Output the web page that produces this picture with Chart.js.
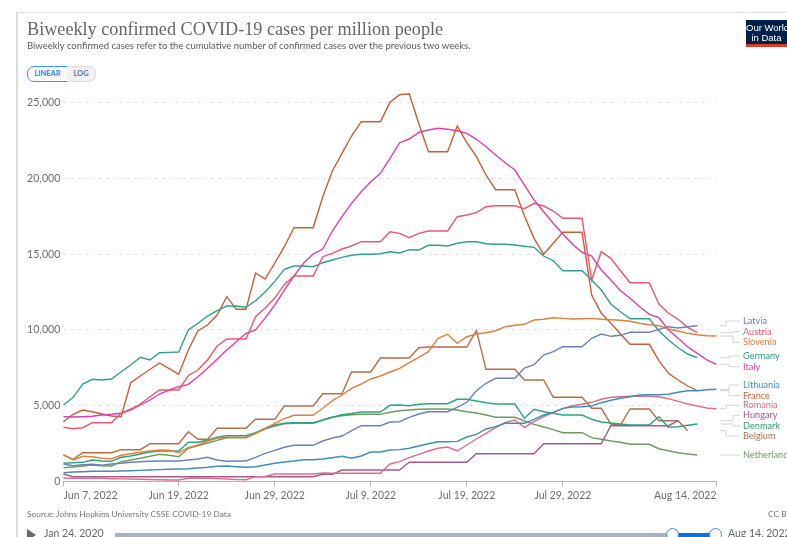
<!DOCTYPE html>
<html>
<head>
<meta charset="utf-8">
<title>Biweekly confirmed COVID-19 cases per million people</title>
<script src="https://cdn.jsdelivr.net/npm/chart.js@4/dist/chart.umd.js"></script>
<style>
  html, body { margin: 0; padding: 0; background: #fff; overflow: hidden; }
  #page { position: relative; width: 787px; height: 537px; overflow: hidden; font-family: Lato, sans-serif; color: #5b5b5b; }
  #page div, #page span { position: absolute; white-space: nowrap; }
  canvas { position: absolute; left: 0; top: 0; }
  #frameTop { left: 16px; top: 12px; width: 771px; height: 1px; background: #ddd; }
  #frameLeft { left: 16px; top: 12px; width: 2px; height: 525px; background: #ddd; }
  #title { left: 27px; top: 19px; font: 18.2px "Liberation Serif", serif; color: #666; }
  #subtitle { left: 27px; top: 40px; font-size: 9.5px; color: #5b5b5b; }
  #linearBtn { left: 27px; top: 66px; width: 39px; height: 14px; border: 1px solid #3d94f6; border-radius: 7px 0 0 7px; color: #1f7fe0; font: bold 7.5px/14px Lato; text-align: center; background: #fff; }
  #logBtn { left: 67px; top: 66px; width: 28px; height: 14px; border: 1px solid #ddd; border-left: 0; border-radius: 0 7px 7px 0; color: #5e7595; font: bold 7.5px/14px Lato; text-align: center; background: #f1f2f4; }
  #logo { left: 746px; top: 20px; width: 41px; height: 27px; background: #002147; border-bottom: 3px solid #dc3e2e; box-sizing: border-box; color: #fff; font: 9.5px/10px "Liberation Sans", sans-serif; text-align: center; padding-top: 3px; overflow: hidden; }
  #source { left: 27px; top: 509px; font-size: 8.35px; color: #777; }
  #license { left: 768px; top: 509px; font-size: 8.35px; color: #777; }
  #play { left: 27px; top: 529px; width: 0; height: 0; border-left: 9px solid #666; border-top: 6px solid transparent; border-bottom: 6px solid transparent; }
  #startDate { left: 44px; top: 527px; font-size: 10.5px; color: #666; }
  #endDate { left: 728px; top: 527px; font-size: 10.5px; color: #666; }
  #track { left: 115px; top: 533px; width: 600px; height: 4px; background: #a9b3bf; }
  #range { left: 673px; top: 533px; width: 42px; height: 4px; background: #0073e6; }
  .handle { top: 528px; width: 11px; height: 11px; border: 1px solid #3d94f6; border-radius: 50%; background: #fff; }
</style>
</head>
<body>
<div id="page">
  <canvas id="chart" width="787" height="537"></canvas>
  <div id="frameTop"></div>
  <div id="frameLeft"></div>
  <div id="title">Biweekly confirmed COVID-19 cases per million people</div>
  <div id="subtitle">Biweekly confirmed cases refer to the cumulative number of confirmed cases over the previous two weeks.</div>
  <div id="linearBtn">LINEAR</div>
  <div id="logBtn">LOG</div>
  <div id="logo">Our World<br>in Data</div>
  <div id="source">Source: Johns Hopkins University CSSE COVID-19 Data</div>
  <div id="license">CC BY</div>
  <div id="play"></div>
  <div id="startDate">Jan 24, 2020</div>
  <div id="track"></div>
  <div id="range"></div>
  <div class="handle" style="left:666px"></div>
  <div class="handle" style="left:709px"></div>
  <div id="endDate">Aug 14, 2022</div>
</div>
<script>
const tickLabels = ["Jun 7, 2022", "Jun 19, 2022", "Jun 29, 2022", "Jul 9, 2022", "Jul 19, 2022", "Jul 29, 2022", "Aug 14, 2022"];

// one value per day from Jun 7; a series simply stops when its last report is older
const france = [3944,4433,4716,4604,4452,4320,4274,6517,6960,7390,7816,7447,7071,8674,9947,10323,10982,12190,11358,11358,13753,13357,14412,15487,16741,16741,16741,18785,20481,21648,22789,23732,23732,23732,25012,25513,25580,23613,21750,21750,21750,23448,22347,21424,20217,19247,19247,19247,17512,16041,14986,15712,16437,16437,16437,12302,11094,10435,9729,9050,9050,9050,7968,7137,6695,6299,5989];
const austria = [3575,3483,3549,3878,3878,3878,4498,4782,5112,5593,6035,6035,6035,6979,7354,8014,8938,9400,9400,9400,10870,11445,12100,13000,13555,13555,13555,14828,15052,15336,15534,15817,15817,15817,16477,16371,16081,16371,16523,16523,16523,17466,17578,17730,18126,18192,18192,18192,17994,18350,18172,17842,17361,17361,17361,13291,15158,14722,13904,13113,13113,13113,11708,11094,10699,10171,9815];
const slovenia = [1748,1418,1662,1636,1530,1504,1728,1834,1926,2012,2078,2058,1900,2229,2408,2671,2849,2915,2915,2915,3179,3509,3839,4142,4366,4366,4366,4828,5330,5706,6147,6431,6761,6959,7222,7466,7836,8192,8562,9446,9710,9116,9551,9729,9815,9947,10211,10303,10369,10652,10699,10804,10760,10719,10740,10760,10699,10670,10633,10567,10435,10342,10277,10059,9927,9775,9683,9617,9597];
const germany = [5046,5554,6431,6741,6695,6761,7242,7684,8192,8014,8496,8520,8542,9993,10435,10916,11266,11576,11576,11490,11926,12500,13200,13997,14214,14214,14168,14432,14610,14788,14920,14986,14986,15026,15158,15072,15290,15270,15580,15580,15534,15712,15817,15817,15685,15646,15646,15600,15514,15448,14874,14564,13904,13904,13904,13291,12631,11708,11200,10738,10738,10738,9947,9333,8825,8410,8166];
const italy = [4274,4250,4274,4300,4386,4432,4498,4716,5046,5376,5771,6035,6253,6411,6913,7466,8060,8674,9221,9775,9993,10780,11640,12630,13555,14392,15006,15336,16523,17466,18350,19116,19775,20329,21318,22347,22591,23033,23185,23297,23231,23139,22967,22572,22083,21536,21028,20546,19557,18568,17796,17031,16325,15646,15118,14874,13951,13291,12585,12084,11530,11029,10804,9993,9446,8891,8456,8014,7731];
const latvia = [1154,1042,1108,1135,1069,1154,1200,1266,1306,1332,1352,1352,1352,1418,1484,1596,1418,1332,1352,1352,1596,1860,2058,2256,2388,2388,2388,2671,2869,3001,3351,3681,3681,3681,3925,3944,4235,4452,4604,4604,4604,4894,5224,5989,6477,6807,6807,6807,7486,7704,8344,8562,8891,8891,8891,9446,9729,9577,9643,9841,9841,9841,10039,10211,10125,10211,10277];
const lithuania = [580,627,646,673,673,673,693,712,732,759,785,805,825,844,890,937,1003,1022,976,937,976,1088,1200,1286,1352,1438,1438,1484,1570,1662,1530,1682,1946,1946,2078,2100,2190,2342,2493,2625,2625,2650,2935,3113,3463,3615,3839,3839,3839,4103,4386,4564,4828,4914,4934,4980,5198,5356,5488,5594,5706,5726,5726,5752,5884,5989,5989,6055,6081];
const romania = [211,211,211,211,211,185,170,160,145,130,115,99,99,211,231,210,190,165,130,119,317,330,495,495,495,495,495,561,541,541,541,541,541,541,1154,1306,1570,1794,2012,2190,2276,2012,2408,2803,3179,3549,3905,4057,3575,3944,4274,4538,4802,5000,5092,5224,5422,5554,5594,5620,5640,5620,5594,5462,5290,5112,4980,4848,4802];
const hungary = [495,317,317,317,317,317,317,317,317,317,317,317,317,317,317,317,317,317,317,317,317,317,317,317,317,317,317,475,475,759,759,759,759,759,759,759,1266,1266,1266,1266,1266,1266,1266,1834,1834,1834,1834,1834,1834,1834,2493,2493,2493,2493,2493,2493,2493,3681,3681,3681,3681,3681,3681,3681,4010];
const denmark = [1200,1240,1266,1418,1352,1332,1596,1682,1814,1946,2012,2012,2012,2586,2586,2737,2915,3021,3021,3021,3219,3509,3727,3839,3878,3878,3878,4057,4235,4406,4485,4584,4584,4584,5026,5046,5000,5092,5132,5132,5132,5422,5422,5310,5198,5112,5112,5112,4169,4762,4604,4498,4386,4386,4386,4103,3925,3859,3793,3727,3727,3727,4274,3575,3615,3707,3793];
const belgium = [1748,1464,1900,1900,1900,1900,2098,2098,2098,2493,2493,2493,2493,3285,2783,2783,3509,3509,3509,3509,4103,4103,4103,4980,4980,4980,4980,5791,5791,5791,7222,7222,7222,8146,8146,8146,8146,8825,8872,8872,8872,8872,8872,9947,7400,7400,7400,7400,6695,6695,6695,5554,5554,5554,5554,4828,4828,3793,3727,4782,4782,4782,4010,4010,4010,3351];
const netherlands = [910,956,1022,1088,1042,1022,1306,1418,1530,1662,1794,1728,1636,2190,2361,2539,2717,2889,2889,2889,3179,3463,3661,3812,3839,3839,3839,4057,4235,4340,4406,4432,4432,4432,4564,4670,4716,4762,4782,4782,4782,4716,4604,4518,4386,4235,4235,4235,3990,3773,3595,3417,3219,3219,3219,2889,2783,2671,2586,2454,2454,2454,2163,2032,1900,1814,1748];

const dayCount = 69;
const dateLabels = [];
for (let i = 0; i < dayCount; i++) {
  const date = new Date(2022, 5, 7 + i);
  dateLabels.push(date.toLocaleDateString("en-US", { month: "short", day: "numeric", year: "numeric" }));
}

const seriesList = [
  { label: "Latvia", data: latvia, color: "#6a82b8", labelY: 321, elbowX: 726 },
  { label: "Austria", data: austria, color: "#e9586f", labelY: 331.7, elbowX: 733 },
  { label: "Slovenia", data: slovenia, color: "#e07f3f", labelY: 342.3, elbowX: 733 },
  { label: "Germany", data: germany, color: "#2f9e94", labelY: 356, elbowX: 729 },
  { label: "Italy", data: italy, color: "#df3fa8", labelY: 366.7, elbowX: 729 },
  { label: "Lithuania", data: lithuania, color: "#3f8fb5", labelY: 385, elbowX: 729 },
  { label: "France", data: france, color: "#c45f38", labelY: 395.7, elbowX: 729 },
  { label: "Romania", data: romania, color: "#dc6d8e", labelY: 405.3, elbowX: 726 },
  { label: "Hungary", data: hungary, color: "#a35b8e", labelY: 415.3, elbowX: 733 },
  { label: "Denmark", data: denmark, color: "#2fa37d", labelY: 426, elbowX: 733 },
  { label: "Belgium", data: belgium, color: "#b56e4a", labelY: 436, elbowX: 726 },
  { label: "Netherlands", data: netherlands, color: "#6f9c5e", labelY: 455, elbowX: 729 },
];

// the end-of-line labels with their little elbow connectors
const lineLabelsPlugin = {
  id: "lineLabels",
  afterDraw(chart) {
    const { ctx } = chart;
    const y = chart.scales.y;
    ctx.save();
    ctx.font = "9.2px Lato";
    ctx.textBaseline = "middle";
    seriesList.forEach((series) => {
      const startY = y.getPixelForValue(series.data[series.data.length - 1]);
      ctx.strokeStyle = "#d4d4d4";
      ctx.lineWidth = 1;
      ctx.beginPath();
      ctx.moveTo(720, startY);
      ctx.lineTo(series.elbowX, startY);
      ctx.lineTo(series.elbowX, series.labelY);
      ctx.lineTo(740, series.labelY);
      ctx.stroke();
      ctx.fillStyle = series.color;
      ctx.fillText(series.label, 743, series.labelY);
    });
    ctx.restore();
  },
};

new Chart(document.getElementById("chart"), {
  type: "line",
  plugins: [lineLabelsPlugin],
  data: {
    labels: dateLabels,
    datasets: seriesList.map((series) => ({
      label: series.label,
      data: series.data,
      borderColor: series.color,
      borderWidth: 1.4,
      pointRadius: 0,
      tension: 0,
      clip: false,
    })),
  },
  options: {
    responsive: false,
    animation: false,
    layout: { padding: { left: 0, right: 70.5, top: 102.5, bottom: 0 } },
    plugins: { legend: { display: false }, tooltip: { enabled: false } },
    scales: {
      x: {
        type: "category",
        offset: false,
        afterFit: (scale) => { scale.height = 55.5; },
        afterBuildTicks: (scale) => {
          scale.ticks = scale.ticks.filter((tick) => tickLabels.includes(dateLabels[tick.value]));
        },
        grid: { drawOnChartArea: false, drawTicks: true, tickLength: 5, color: "#b5b5b5" },
        border: { color: "#b5b5b5" },
        ticks: {
          autoSkip: false,
          maxRotation: 0,
          align: "inner",
          padding: 3,
          color: "#6e6e6e",
          font: { family: "Lato", size: 10.5 },
          callback: (value) => dateLabels[value],
        },
      },
      y: {
        min: 0,
        max: 25000,
        afterFit: (scale) => { scale.width = 63.5; },
        grid: {
          color: (ctx) => (ctx.tick.value === 0 ? "rgba(0,0,0,0)" : "#e3e3e3"),
          lineWidth: 1,
          drawTicks: false,
        },
        border: { display: false, dash: [3, 4] },
        ticks: {
          stepSize: 5000,
          padding: 3,
          color: "#6e6e6e",
          font: { family: "Lato", size: 10.7 },
          callback: (value) => value.toLocaleString("en-US"),
        },
      },
    },
  },
});
</script>
</body>
</html>
